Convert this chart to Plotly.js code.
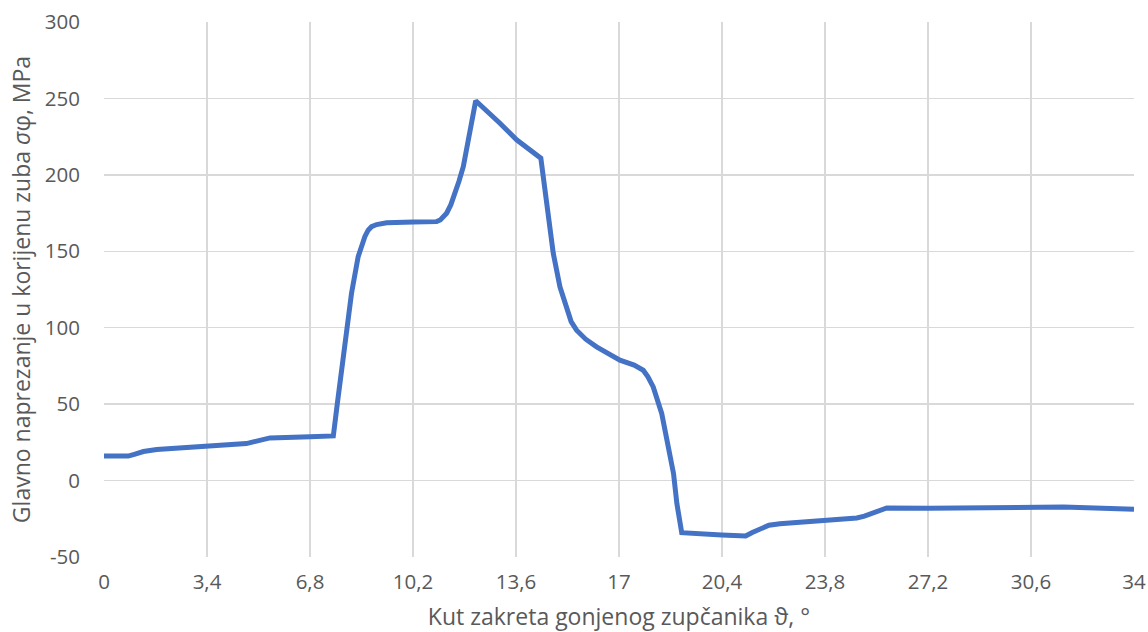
<!DOCTYPE html>
<html>
<head>
<meta charset="utf-8">
<script src="https://cdn.plot.ly/plotly-3.0.1.min.js"></script>
<style>html,body{margin:0;padding:0;background:#fff;}#chart{width:1148px;height:632px;}</style>
</head>
<body>
<div id="chart"></div>
<script>
const angle = [0, 0.8, 1.0, 1.3, 1.74, 2.5, 3.39, 4.0, 4.38, 4.7, 4.93, 5.2, 5.48, 6.8, 7.57, 7.7, 7.84, 8.0, 8.17, 8.39, 8.5, 8.61, 8.72, 8.83, 9.0, 9.33, 10.21, 10.98, 11.1, 11.2, 11.31, 11.45, 11.59, 11.72, 11.86, 11.97, 12.08, 12.27, 13.07, 13.62, 14.42, 14.61, 14.83, 15.05, 15.27, 15.42, 15.6, 15.9, 16.26, 17.03, 17.5, 17.8, 17.95, 18.13, 18.41, 18.63, 18.8, 18.91, 19.07, 20.39, 21.18, 21.4, 21.65, 21.95, 22.31, 23.8, 24.5, 24.85, 25.1, 25.29, 25.55, 25.84, 27.21, 29.03, 31.67, 34];
const stress = [16, 16, 17.2, 19.0, 20.3, 21.2, 22.3, 22.8, 23.3, 24.2, 25.3, 26.6, 27.9, 28.6, 29.2, 50, 72, 100.6, 122.5, 146.5, 154, 159.6, 163.8, 166.1, 167.5, 168.7, 169.2, 169.4, 170.5, 172.3, 174.9, 180.5, 188, 196, 205.4, 216, 229.4, 248.5, 233.8, 222.9, 210.9, 179.2, 148.7, 126.8, 111.5, 104, 98.4, 92.5, 87.5, 78.8, 75.5, 72.2, 68, 61.3, 43.9, 22.0, 4.6, -15, -34.1, -35.6, -36.3, -34, -31.4, -29.2, -28.2, -26, -25.2, -24.5, -23.3, -22, -20, -17.9, -18.1, -17.9, -17.3, -18.8];
const xTickVals = [0, 3.4, 6.8, 10.2, 13.6, 17, 20.4, 23.8, 27.2, 30.6, 34];
const xTickText = ["0", "3,4", "6,8", "10,2", "13,6", "17", "20,4", "23,8", "27,2", "30,6", "34"];
const yTickVals = [-50, 0, 50, 100, 150, 200, 250, 300];
const yTickText = ["-50", "0", "50", "100", "150", "200", "250", "300"];

const fontFam = "Open Sans, Liberation Sans, sans-serif";
const gray = "#595959";

Plotly.newPlot("chart", [{
  x: angle, y: stress, type: "scatter", mode: "lines",
  line: {color: "#4472C4", width: 5, shape: "linear"},
  hoverinfo: "skip"
}], {
  width: 1148, height: 632,
  margin: {l: 104, r: 14, t: 22, b: 75},
  paper_bgcolor: "#fff", plot_bgcolor: "#fff",
  showlegend: false,
  font: {family: fontFam, color: gray, size: 20},
  xaxis: {
    range: [0, 34], tickvals: xTickVals, ticktext: xTickText,
    showgrid: true, gridcolor: "#d9d9d9", gridwidth: 1.5,
    zeroline: false, showline: false, ticks: "",
    tickfont: {size: 20.5, color: gray}, ticklabelstandoff: 10,
    title: {text: "Kut zakreta gonjenog zupčanika ϑ, °", font: {size: 23, color: gray}, standoff: 16},
    automargin: false
  },
  yaxis: {
    range: [-50, 300], tickvals: yTickVals, ticktext: yTickText,
    showgrid: true, gridcolor: "#d9d9d9", gridwidth: 1.5,
    zeroline: false, showline: false, ticks: "",
    tickfont: {size: 20.5, color: gray}, ticklabelstandoff: 23,
    title: {text: "Glavno naprezanje u korijenu zuba <i>σ</i>φ, MPa", font: {size: 23, color: gray}, standoff: 7},
    automargin: false
  }
}, {staticPlot: true});
</script>
</body>
</html>
